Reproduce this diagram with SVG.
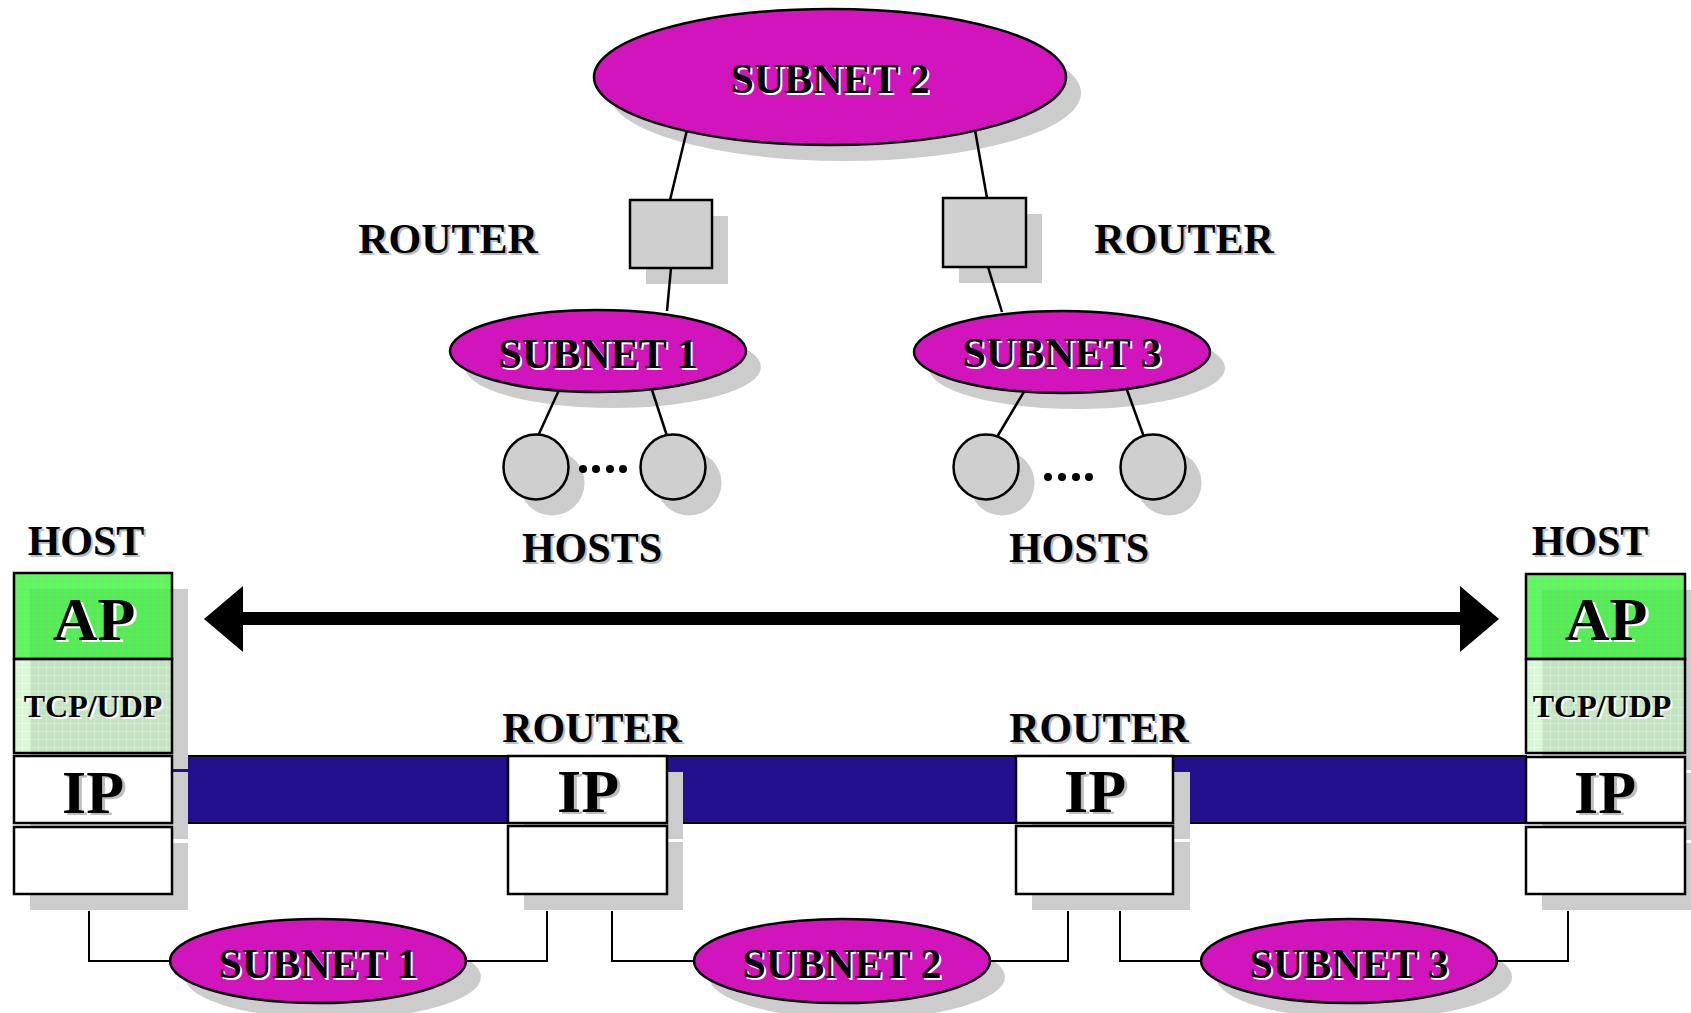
<svg xmlns="http://www.w3.org/2000/svg" width="1691" height="1013" viewBox="0 0 1691 1013">
  <defs>
    <style>
      .lbl { font-family: "Liberation Serif", "Times New Roman", serif; font-weight: bold; text-anchor: middle; fill: #000; }
      .sh-g { fill: #bdbdbd; }
      .sh-w { fill: #ffffff; }
      .f42 { font-size: 42px; }
      .f62 { font-size: 62px; }
      .f32 { font-size: 32px; }
      .shadow { fill: #cccccc; stroke: none; }
      .net { fill: #d214bc; stroke: #000; stroke-width: 2.5; }
      .box { fill: #ffffff; stroke: #000; stroke-width: 2.5; }
      .gray { fill: #cfcfcf; stroke: #000; stroke-width: 2.5; }
      .wire { fill: none; stroke: #000; stroke-width: 2.5; }
      .wire-thin { fill: none; stroke: #000; stroke-width: 2; }
    </style>
    <pattern id="gridAP" width="8" height="8" patternUnits="userSpaceOnUse" x="14" y="573">
      <rect width="8" height="8" fill="#44ee44"/>
      <path d="M0 0.5 H8 M0.5 0 V8" stroke="#22ff22" stroke-width="1"/>
    </pattern>
    <pattern id="gridTCP" width="8" height="8" patternUnits="userSpaceOnUse" x="14" y="659">
      <rect width="8" height="8" fill="#bdf2bd"/>
      <path d="M0 0.5 H8 M0.5 0 V8" stroke="#d6ffd6" stroke-width="1"/>
    </pattern>
  </defs>

  <rect width="1691" height="1013" fill="#ffffff"/>

  <!-- IP transport band behind the stacks -->
  <rect x="172" y="756" width="1354" height="67" fill="#22108e" stroke="#000" stroke-width="2"/>

  <!-- drop shadows, all offset 15-16 px down and right -->
  <g id="shadows">
    <ellipse class="shadow" cx="845" cy="93" rx="236" ry="68"/>
    <rect class="shadow" x="646" y="216" width="82" height="68"/>
    <rect class="shadow" x="959" y="214" width="83" height="69"/>
    <ellipse class="shadow" cx="613" cy="367" rx="148" ry="41"/>
    <ellipse class="shadow" cx="1077" cy="368" rx="148" ry="41"/>
    <circle class="shadow" cx="552" cy="483" r="32.5"/>
    <circle class="shadow" cx="689" cy="483" r="32.5"/>
    <circle class="shadow" cx="1002" cy="483" r="32.5"/>
    <circle class="shadow" cx="1169" cy="483" r="32.5"/>
    <rect class="shadow" x="30" y="589" width="158" height="180"/>
    <rect class="shadow" x="30" y="772" width="158" height="67"/>
    <rect class="shadow" x="30" y="843" width="158" height="67"/>
    <rect class="shadow" x="1542" y="590" width="158" height="180"/>
    <rect class="shadow" x="1542" y="773" width="158" height="67"/>
    <rect class="shadow" x="1542" y="843" width="158" height="67"/>
    <rect class="shadow" x="524" y="772" width="159" height="67"/>
    <rect class="shadow" x="524" y="842" width="159" height="68"/>
    <rect class="shadow" x="1032" y="772" width="158" height="67"/>
    <rect class="shadow" x="1032" y="842" width="158" height="68"/>
    <ellipse class="shadow" cx="333" cy="977" rx="148" ry="42"/>
    <ellipse class="shadow" cx="857" cy="977" rx="148" ry="42"/>
    <ellipse class="shadow" cx="1364" cy="977" rx="148" ry="42"/>
  </g>

  <!-- connectors -->
  <g id="connectors">
    <line class="wire" x1="687" y1="130" x2="670" y2="200"/>
    <line class="wire" x1="671" y1="268" x2="667" y2="311"/>
    <line class="wire" x1="975" y1="130" x2="987" y2="198"/>
    <line class="wire" x1="988" y1="267" x2="1002" y2="312"/>
    <line class="wire" x1="559" y1="390" x2="538" y2="436"/>
    <line class="wire" x1="652" y1="390" x2="667" y2="436"/>
    <line class="wire" x1="1025" y1="390" x2="997" y2="437"/>
    <line class="wire" x1="1127" y1="390" x2="1144" y2="437"/>
    <polyline class="wire-thin" points="89,911 89,961 170,961"/>
    <polyline class="wire-thin" points="466,961 547,961 547,911"/>
    <polyline class="wire-thin" points="612,911 612,961 693,961"/>
    <polyline class="wire-thin" points="990,961 1068,961 1068,911"/>
    <polyline class="wire-thin" points="1120,911 1120,961 1200,961"/>
    <polyline class="wire-thin" points="1497,961 1568,961 1568,911"/>
    <!-- end-to-end arrow -->
    <polygon fill="#000" points="204,619 243,586 243,612 1460,612 1460,586 1499,619 1460,652 1460,625 243,625 243,652"/>
  </g>

  <!-- top network -->
  <g id="subnet2-top">
    <ellipse class="net" cx="830" cy="77" rx="236" ry="68"/>
    <text class="lbl f42 sh-w" x="832" y="95">SUBNET 2</text>
    <text class="lbl f42" x="830" y="93">SUBNET 2</text>
  </g>

  <g id="router-top-1">
    <rect class="gray" x="630" y="200" width="82" height="68"/>
    <text class="lbl f42 sh-g" x="450" y="255">ROUTER</text>
    <text class="lbl f42" x="448" y="253">ROUTER</text>
  </g>

  <g id="router-top-2">
    <rect class="gray" x="943" y="198" width="83" height="69"/>
    <text class="lbl f42 sh-g" x="1186" y="255">ROUTER</text>
    <text class="lbl f42" x="1184" y="253">ROUTER</text>
  </g>

  <g id="subnet1-top">
    <ellipse class="net" cx="598" cy="351" rx="148" ry="41"/>
    <text class="lbl f42 sh-w" x="600" y="370">SUBNET 1</text>
    <text class="lbl f42" x="598" y="368">SUBNET 1</text>
  </g>

  <g id="subnet3-top">
    <ellipse class="net" cx="1062" cy="352" rx="148" ry="41"/>
    <text class="lbl f42 sh-w" x="1064" y="369">SUBNET 3</text>
    <text class="lbl f42" x="1062" y="367">SUBNET 3</text>
  </g>

  <g id="hosts-1">
    <circle class="gray" cx="536" cy="467" r="32.5"/>
    <circle class="gray" cx="673" cy="467" r="32.5"/>
    <g fill="#000">
      <circle cx="583" cy="469" r="4"/>
      <circle cx="596" cy="469" r="4"/>
      <circle cx="610" cy="469" r="4"/>
      <circle cx="623" cy="469" r="4"/>
    </g>
    <text class="lbl f42 sh-g" x="594" y="564">HOSTS</text>
    <text class="lbl f42" x="592" y="562">HOSTS</text>
  </g>

  <g id="hosts-3">
    <circle class="gray" cx="986" cy="467" r="32.5"/>
    <circle class="gray" cx="1153" cy="467" r="32.5"/>
    <g fill="#000">
      <circle cx="1048" cy="477" r="4"/>
      <circle cx="1062" cy="477" r="4"/>
      <circle cx="1076" cy="477" r="4"/>
      <circle cx="1089" cy="477" r="4"/>
    </g>
    <text class="lbl f42 sh-g" x="1081" y="564">HOSTS</text>
    <text class="lbl f42" x="1079" y="562">HOSTS</text>
  </g>

  <!-- protocol stack, left host -->
  <g id="host-left">
    <rect x="14" y="573" width="158" height="86" fill="url(#gridAP)" opacity="0.8"/>
    <rect x="14" y="573" width="158" height="86" fill="none" stroke="#000" stroke-width="2.5"/>
    <rect x="14" y="659" width="158" height="94" fill="url(#gridTCP)" opacity="0.6"/>
    <rect x="14" y="659" width="158" height="94" fill="none" stroke="#000" stroke-width="2.5"/>
    <rect class="box" x="14" y="756" width="158" height="67"/>
    <rect class="box" x="14" y="827" width="158" height="67"/>
    <text class="lbl f42 sh-g" x="88" y="557">HOST</text>
    <text class="lbl f42" x="86" y="555">HOST</text>
    <text class="lbl f62 sh-w" x="97" y="642">AP</text>
    <text class="lbl f62" x="94" y="640">AP</text>
    <text class="lbl f32 sh-w" x="95" y="719">TCP/UDP</text>
    <text class="lbl f32" x="93" y="717">TCP/UDP</text>
    <text class="lbl f62 sh-g" x="96" y="815">IP</text>
    <text class="lbl f62" x="93" y="813">IP</text>
  </g>

  <!-- protocol stack, right host -->
  <g id="host-right">
    <rect x="1526" y="574" width="159" height="85" fill="url(#gridAP)" opacity="0.8"/>
    <rect x="1526" y="574" width="159" height="85" fill="none" stroke="#000" stroke-width="2.5"/>
    <rect x="1526" y="659" width="159" height="94" fill="url(#gridTCP)" opacity="0.6"/>
    <rect x="1526" y="659" width="159" height="94" fill="none" stroke="#000" stroke-width="2.5"/>
    <rect class="box" x="1526" y="757" width="159" height="66"/>
    <rect class="box" x="1526" y="827" width="159" height="67"/>
    <text class="lbl f42 sh-g" x="1592" y="557">HOST</text>
    <text class="lbl f42" x="1590" y="555">HOST</text>
    <text class="lbl f62 sh-w" x="1609" y="642">AP</text>
    <text class="lbl f62" x="1606" y="640">AP</text>
    <text class="lbl f32 sh-w" x="1604" y="719">TCP/UDP</text>
    <text class="lbl f32" x="1602" y="717">TCP/UDP</text>
    <text class="lbl f62 sh-g" x="1608" y="815">IP</text>
    <text class="lbl f62" x="1605" y="813">IP</text>
  </g>

  <!-- routers on the path -->
  <g id="router-mid-1">
    <rect class="box" x="508" y="756" width="159" height="67"/>
    <rect class="box" x="508" y="826" width="159" height="68"/>
    <text class="lbl f42 sh-g" x="594" y="744">ROUTER</text>
    <text class="lbl f42" x="592" y="742">ROUTER</text>
    <text class="lbl f62 sh-g" x="591" y="814">IP</text>
    <text class="lbl f62" x="588" y="812">IP</text>
  </g>

  <g id="router-mid-2">
    <rect class="box" x="1016" y="756" width="157" height="67"/>
    <rect class="box" x="1016" y="826" width="157" height="68"/>
    <text class="lbl f42 sh-g" x="1101" y="744">ROUTER</text>
    <text class="lbl f42" x="1099" y="742">ROUTER</text>
    <text class="lbl f62 sh-g" x="1098" y="814">IP</text>
    <text class="lbl f62" x="1095" y="812">IP</text>
  </g>

  <!-- subnets along the path -->
  <g id="subnet1-bottom">
    <ellipse class="net" cx="318" cy="961" rx="148" ry="42"/>
    <text class="lbl f42 sh-w" x="320" y="980">SUBNET 1</text>
    <text class="lbl f42" x="318" y="978">SUBNET 1</text>
  </g>

  <g id="subnet2-bottom">
    <ellipse class="net" cx="842" cy="961" rx="148" ry="42"/>
    <text class="lbl f42 sh-w" x="844" y="980">SUBNET 2</text>
    <text class="lbl f42" x="842" y="978">SUBNET 2</text>
  </g>

  <g id="subnet3-bottom">
    <ellipse class="net" cx="1349" cy="961" rx="148" ry="42"/>
    <text class="lbl f42 sh-w" x="1351" y="980">SUBNET 3</text>
    <text class="lbl f42" x="1349" y="978">SUBNET 3</text>
  </g>
</svg>
